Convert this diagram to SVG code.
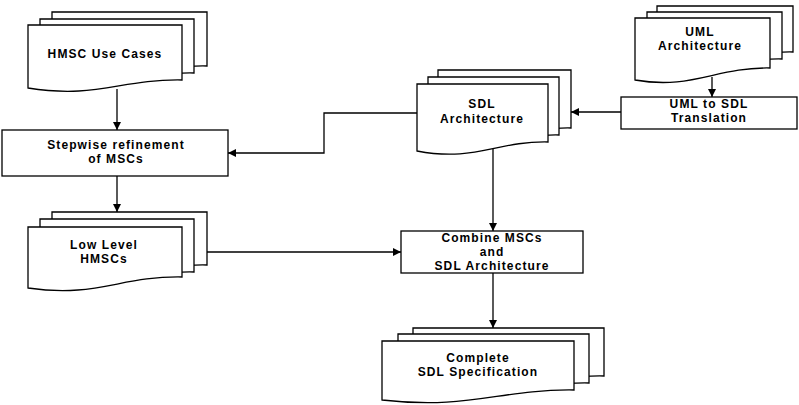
<svg xmlns="http://www.w3.org/2000/svg" width="799" height="405" viewBox="0 0 799 405">
<style>
.s{fill:#fff;stroke:#000;stroke-width:1.3}
.t{font-family:"Liberation Sans",Arial,sans-serif;font-weight:bold;font-size:12px;letter-spacing:1.1px;text-anchor:middle;fill:#000}
.c{fill:none;stroke:#000;stroke-width:1.3}
</style>
<defs>
<marker id="a" markerUnits="userSpaceOnUse" markerWidth="9" markerHeight="8" refX="8" refY="4" orient="auto">
<path d="M0,0 L8,4 L0,8 Z" fill="#000"/>
</marker>
</defs>
<rect width="799" height="405" fill="#fff"/>

<g id="hmsc-use-cases">
<path class="s" d="M52,12 H207 V66 C145,65 125,86 52,75 Z"/>
<path class="s" d="M40,19 H194 V73 C132,72 112,93 40,82 Z"/>
<path class="s" d="M28,25 H182 V80 C120,79 97,99 28,88 Z"/>
<text class="t" x="105" y="58">HMSC Use Cases</text>
</g>

<g id="stepwise">
<rect class="s" x="2" y="130" width="226" height="46"/>
<text class="t" x="116" y="149">Stepwise refinement</text>
<text class="t" x="116" y="163">of MSCs</text>
</g>

<g id="low-level-hmscs">
<path class="s" d="M52,212 H207 V265 C145,264 125,284 52,274 Z"/>
<path class="s" d="M40,219 H194 V272 C132,271 112,291 40,281 Z"/>
<path class="s" d="M28,227 H182 V277 C120,276 97,298 28,288 Z"/>
<text class="t" x="104" y="249">Low Level</text>
<text class="t" x="104" y="263">HMSCs</text>
</g>

<g id="sdl-architecture">
<path class="s" d="M438,70 H571 V128 C520,127 500,149 438,138 Z"/>
<path class="s" d="M428,77 H559 V135 C508,134 488,156 428,145 Z"/>
<path class="s" d="M417,84 H548 V142 C496,141 475,162 417,151 Z"/>
<text class="t" x="482" y="108">SDL</text>
<text class="t" x="482" y="123">Architecture</text>
</g>

<g id="uml-architecture">
<path class="s" d="M657,6 H793 V52 C740,51 718,73 657,63 Z"/>
<path class="s" d="M647,12 H782 V59 C729,58 707,80 647,70 Z"/>
<path class="s" d="M635,18 H770 V68 C716,67 692,90 635,80 Z"/>
<text class="t" x="700" y="36">UML</text>
<text class="t" x="700" y="50">Architecture</text>
</g>

<g id="uml-to-sdl">
<rect class="s" x="621" y="97" width="176" height="32"/>
<text class="t" x="709" y="108">UML to SDL</text>
<text class="t" x="709" y="122">Translation</text>
</g>

<g id="combine">
<rect class="s" x="401" y="231" width="182" height="42"/>
<text class="t" x="492" y="242">Combine MSCs</text>
<text class="t" x="492" y="256">and</text>
<text class="t" x="492" y="270">SDL Architecture</text>
</g>

<g id="complete-sdl">
<path class="s" d="M413,328 H604 V376 C535,375 505,397 413,387 Z"/>
<path class="s" d="M398,334 H589 V383 C520,382 490,404 398,394 Z"/>
<path class="s" d="M382,341 H574 V390 C500,389 470,410 382,400 Z"/>
<text class="t" x="478" y="362">Complete</text>
<text class="t" x="478" y="376">SDL Specification</text>
</g>

<g id="connectors">
<path class="c" d="M117,89 V130" marker-end="url(#a)"/>
<path class="c" d="M117,176 V212" marker-end="url(#a)"/>
<path class="c" d="M207,252 H401" marker-end="url(#a)"/>
<path class="c" d="M417,113 H324 V153 H228" marker-end="url(#a)"/>
<path class="c" d="M493,149 V231" marker-end="url(#a)"/>
<path class="c" d="M712,77 V97" marker-end="url(#a)"/>
<path class="c" d="M621,112 H571" marker-end="url(#a)"/>
<path class="c" d="M493,273 V328" marker-end="url(#a)"/>
</g>
</svg>
